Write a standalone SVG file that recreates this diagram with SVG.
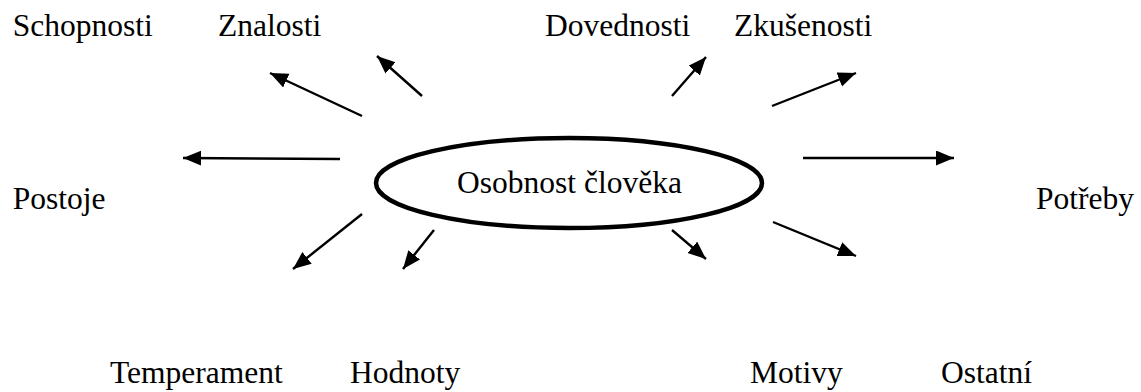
<svg xmlns="http://www.w3.org/2000/svg" width="1141" height="392" viewBox="0 0 1141 392">
<style>
text{font-family:"Liberation Serif","Times New Roman",serif;font-size:31.5px;fill:#000}
.c line{stroke:#000;stroke-width:2.4;marker-end:url(#ah)}
</style>
<defs>
<marker id="ah" markerUnits="userSpaceOnUse" markerWidth="19" markerHeight="16" refX="18" refY="7.5" orient="auto">
<path d="M0,0 L18,7.5 L0,15 z" fill="#000"/>
</marker>
</defs>
<rect width="1141" height="392" fill="#fff"/>
<g id="center">
<ellipse cx="569" cy="183" rx="193" ry="45" fill="none" stroke="#000" stroke-width="4.5"/>
<text x="569.5" y="193" text-anchor="middle">Osobnost člověka</text>
</g>
<g id="n-schopnosti"><text x="12.7" y="36">Schopnosti</text></g>
<g id="n-znalosti"><text x="218" y="36">Znalosti</text></g>
<g id="n-dovednosti"><text x="545" y="36">Dovednosti</text></g>
<g id="n-zkusenosti"><text x="734" y="36">Zkušenosti</text></g>
<g id="n-postoje"><text x="12.7" y="209">Postoje</text></g>
<g id="n-potreby"><text x="1036" y="209">Potřeby</text></g>
<g id="n-temperament"><text x="110" y="383">Temperament</text></g>
<g id="n-hodnoty"><text x="350" y="383">Hodnoty</text></g>
<g id="n-motivy"><text x="750" y="383">Motivy</text></g>
<g id="n-ostatni"><text x="941" y="383">Ostatní</text></g>
<g id="connectors" class="c">
<line x1="362" y1="116" x2="270" y2="73"/>
<line x1="422" y1="96" x2="377" y2="56"/>
<line x1="340" y1="159" x2="183" y2="158"/>
<line x1="672" y1="96" x2="706" y2="57"/>
<line x1="772" y1="106" x2="856" y2="73"/>
<line x1="803" y1="158" x2="954" y2="158"/>
<line x1="362" y1="214" x2="293" y2="269"/>
<line x1="434" y1="230" x2="403" y2="269"/>
<line x1="672" y1="230" x2="706" y2="259"/>
<line x1="773" y1="222" x2="856" y2="256"/>
</g>
</svg>
